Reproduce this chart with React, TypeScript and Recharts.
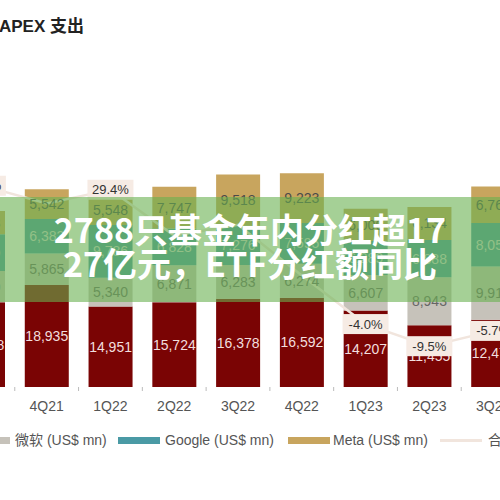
import React from 'react';
import { ComposedChart, Bar, Line, XAxis, YAxis, LabelList } from 'recharts';

const quarters = ['3Q21', '4Q21', '1Q22', '2Q22', '3Q22', '4Q22', '1Q23', '2Q23', '3Q23'];
const amazon = [15748, 18935, 14951, 15724, 16378, 16592, 14207, 11455, 12479];
const microsoft = [5810, 5865, 5340, 6871, 6283, 6274, 6607, 8943, 9917];
const google = [6819, 6383, 9786, 6828, 7276, 7595, 6289, 6888, 8055];
const meta = [4313, 5542, 5548, 7747, 9518, 9223, 6000, 6134, 6760];
const totalYoy = [30.4, 26.0, 29.4, 18.0, 20.7, 8.1, -4.0, -9.5, -5.7];
const yoyShown = [true, false, true, false, false, false, true, true, true];

const legendNames = ['亚马逊 (US$ mn)', '微软 (US$ mn)', 'Google (US$ mn)', 'Meta (US$ mn)', '合计 YoY'];
const titleText = 'APEX 支出';
const bannerLines = ['2788只基金年内分红超17', '27亿元，ETF分红额同比'];

const C_AMZ = '#7a0404';
const C_MSFT = '#c6c2ba';
const C_GOOG = '#4a9aa5';
const C_META = '#c8a55e';
const C_YOY = '#f1e5dd';

const data = quarters.map((q, i) => ({
  q,
  amazon: amazon[i],
  microsoft: microsoft[i],
  google: google[i],
  meta: meta[i],
  yoy: totalYoy[i],
}));

const PLOT_BOTTOM = 387;
const CHART_W = 574;
const BAND = CHART_W / quarters.length;

const fmt = (v: any) => Number(v).toLocaleString('en-US');

const Tick = (props: any) => {
  const { x, payload } = props;
  return (
    <g>
      <line x1={x - BAND / 2} x2={x - BAND / 2} y1={PLOT_BOTTOM} y2={PLOT_BOTTOM + 4} stroke="#bbb" strokeWidth={1} />
      <text x={x} y={PLOT_BOTTOM + 19} dy={5} textAnchor="middle" fontSize={14} fill="#555">
        {payload.value}
      </text>
    </g>
  );
};

const YoyLabel = (props: any) => {
  const { x, y, value } = props;
  let index = props.index;
  if (index === undefined) index = totalYoy.indexOf(Number(value));
  if (!yoyShown[index]) return null;
  return (
    <g>
      <rect x={x - 23} y={y - 10} width={46} height={20} fill="#f6ebe4" />
      <text x={x} y={y} dy={4.5} textAnchor="middle" fontSize={13} fill="#333">
        {Number(value).toFixed(1)}%
      </text>
    </g>
  );
};

const legendItems = [
  { name: legendNames[0], color: C_AMZ, sw: -200, tx: -153, h: 7 },
  { name: legendNames[1], color: C_MSFT, sw: -32, tx: 15, h: 7 },
  { name: legendNames[2], color: C_GOOG, sw: 118, tx: 165, h: 7 },
  { name: legendNames[3], color: C_META, sw: 288, tx: 333, h: 7 },
  { name: legendNames[4], color: C_YOY, sw: 440, tx: 488, h: 3 },
];

export default function App() {
  return (
    <div
      style={{
        position: 'absolute',
        left: 0,
        top: 0,
        width: 500,
        height: 500,
        overflow: 'hidden',
        background: '#fff',
        fontFamily: '"Liberation Sans", Arial, "Noto Sans CJK SC", sans-serif',
      }}
    >
      <div style={{ position: 'absolute', left: -49, top: 0 }}>
        <ComposedChart width={CHART_W} height={500} data={data} margin={{ top: 10, right: 0, bottom: 0, left: 0 }} barSize={44}>
          <XAxis dataKey="q" height={113} axisLine={false} tickLine={false} interval={0} tick={<Tick />} />
          <YAxis yAxisId="l" hide domain={[0, 70000]} />
          <YAxis yAxisId="r" hide orientation="right" domain={[-19.65, 74.1]} />
          <Line yAxisId="r" dataKey="yoy" stroke={C_YOY} strokeWidth={2.5} dot={false} activeDot={false} isAnimationActive={false} legendType="none" />
          <Bar yAxisId="l" dataKey="amazon" stackId="s" fill={C_AMZ} isAnimationActive={false}>
            <LabelList dataKey="amazon" position="center" fill="#f2dede" fontSize={14} formatter={fmt} />
          </Bar>
          <Bar yAxisId="l" dataKey="microsoft" stackId="s" fill={C_MSFT} isAnimationActive={false}>
            <LabelList dataKey="microsoft" position="center" fill="#666" fontSize={14} formatter={fmt} />
          </Bar>
          <Bar yAxisId="l" dataKey="google" stackId="s" fill={C_GOOG} isAnimationActive={false}>
            <LabelList dataKey="google" position="center" fill="#cfd8d8" fontSize={14} formatter={fmt} />
          </Bar>
          <Bar yAxisId="l" dataKey="meta" stackId="s" fill={C_META} isAnimationActive={false}>
            <LabelList dataKey="meta" position="center" fill="#4a4a4a" fontSize={14} formatter={fmt} />
          </Bar>
          <Line yAxisId="r" dataKey="yoy" stroke="none" dot={false} activeDot={false} isAnimationActive={false} legendType="none">
            <LabelList dataKey="yoy" content={<YoyLabel />} />
          </Line>
        </ComposedChart>
      </div>

      <div style={{ position: 'absolute', left: -1, top: 12, fontSize: 17, fontWeight: 700, color: '#222', whiteSpace: 'nowrap' }}>
        {titleText}
      </div>

      {legendItems.map((it) => (
        <React.Fragment key={it.name}>
          <div style={{ position: 'absolute', left: it.sw, top: 440 - it.h / 2, width: 42, height: it.h, background: it.color }} />
          <div style={{ position: 'absolute', left: it.tx, top: 431, fontSize: 14, lineHeight: '18px', color: '#555', whiteSpace: 'nowrap' }}>
            {it.name}
          </div>
        </React.Fragment>
      ))}

      <div style={{ position: 'absolute', left: 0, top: 197, width: 500, height: 105, background: 'rgba(105,177,80,0.6)' }} />
      {bannerLines.map((t, i) => (
        <div
          key={t}
          style={{
            position: 'absolute',
            left: 0,
            width: 500,
            top: 212 + i * 34,
            textAlign: 'center',
            fontFamily: '"Noto Sans CJK SC", sans-serif',
            fontWeight: 700,
            fontSize: 34,
            lineHeight: '34px',
            color: '#fff',
            whiteSpace: 'nowrap',
          }}
        >
          {t}
        </div>
      ))}
    </div>
  );
}
